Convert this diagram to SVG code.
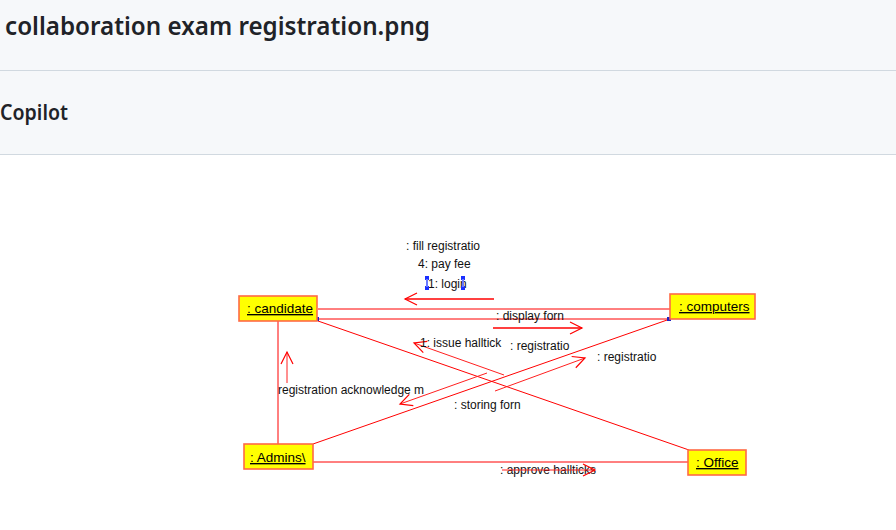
<svg xmlns="http://www.w3.org/2000/svg" width="896" height="530" viewBox="0 0 896 530">
<defs>
<style>
.hdr{font-family:"Noto Sans","Open Sans","Liberation Sans",sans-serif;font-weight:600;fill:#1f2328}
.box{fill:#ffff00;stroke:#ff6a45;stroke-width:1.6}
.ntxt{font-family:"Liberation Sans",Arial,sans-serif;font-size:13.5px;fill:#000;text-decoration:underline}
.lbl{font-family:"Liberation Sans",Arial,sans-serif;font-size:12px;fill:#111}
.ln{stroke:#ff0000;stroke-width:1;fill:none}
.msg{stroke:#ff2020;stroke-width:1;fill:none;marker-end:url(#arr)}
.msgb{stroke:#ff0000;stroke-width:1.5;fill:none;marker-end:url(#arr)}
.hdl{fill:#1a2fff}
</style>
<marker id="arr" markerUnits="userSpaceOnUse" viewBox="-14 -8 16 16" refX="0" refY="0" markerWidth="16" markerHeight="16" orient="auto">
<path d="M-12,-6 L0,0 L-12,6" fill="none" stroke="#ff0000" stroke-width="1.2"/>
</marker>
</defs>
<rect x="0" y="0" width="896" height="530" fill="#ffffff"/>
<g id="header">
<rect x="0" y="0" width="896" height="154" fill="#f6f8fa"/>
<line x1="0" y1="70.5" x2="896" y2="70.5" stroke="#d1d9e0" stroke-width="1"/>
<line x1="0" y1="154.5" x2="896" y2="154.5" stroke="#d1d9e0" stroke-width="1"/>
<text class="hdr" x="5" y="35" font-size="25" textLength="425" lengthAdjust="spacingAndGlyphs">collaboration exam registration.png</text>
<text class="hdr" x="0" y="120" font-size="21" textLength="68" lengthAdjust="spacingAndGlyphs">Copilot</text>
</g>
<g id="connectors">
<line class="ln" x1="318" y1="309" x2="670" y2="309"/>
<line class="ln" x1="318" y1="319" x2="670" y2="319" stroke-width="1.4"/>
<line class="ln" x1="278" y1="321" x2="278" y2="444"/>
<line class="ln" x1="318" y1="321" x2="689" y2="450"/>
<line class="ln" x1="313" y1="444" x2="670" y2="319"/>
<line class="ln" x1="313" y1="462" x2="689" y2="462"/>
<rect x="315" y="317" width="4" height="4" fill="#2020c0"/>
<rect x="667" y="317" width="4" height="4" fill="#2020c0"/>
<line class="msgb" x1="494" y1="299" x2="405" y2="299" stroke-width="1.2"/>
<text class="lbl" x="406" y="250">: fill registratio</text>
<text class="lbl" x="418" y="268">4: pay fee</text>
<text class="lbl" x="428" y="288">1: login</text>
<rect class="hdl" x="425" y="276" width="4" height="4"/>
<rect class="hdl" x="425" y="286" width="4" height="4"/>
<rect x="426" y="279" width="2" height="8" fill="#6a7aff"/>
<rect class="hdl" x="461" y="276" width="4" height="4"/>
<rect class="hdl" x="461" y="286" width="4" height="4"/>
<rect x="462" y="279" width="2" height="8" fill="#6a7aff"/>
<line class="msgb" x1="493" y1="328" x2="582" y2="328"/>
<text class="lbl" x="496" y="320">: display forn</text>
<line class="msg" x1="504" y1="375" x2="414" y2="343"/>
<text class="lbl" x="420" y="347">1: issue halltick</text>
<line class="msg" x1="495" y1="391" x2="585" y2="358"/>
<text class="lbl" x="510" y="350">: registratio</text>
<text class="lbl" x="597" y="361">: registratio</text>
<line class="msg" x1="487" y1="373" x2="400" y2="404"/>
<text class="lbl" x="454" y="409">: storing forn</text>
<line class="msg" x1="287" y1="383" x2="287" y2="352"/>
<text class="lbl" x="278" y="394">registration acknowledge m</text>
<text class="lbl" x="500" y="474">: approve hallticks</text>
<line class="msg" x1="502" y1="470" x2="595" y2="470"/>
</g>
<g id="candidate">
<rect class="box" x="239" y="296" width="78" height="25"/>
<text class="ntxt" x="247" y="313">: candidate</text>
</g>
<g id="computers">
<rect class="box" x="670" y="294" width="85" height="25"/>
<text class="ntxt" x="679" y="311">: computers</text>
</g>
<g id="admins">
<rect class="box" x="244" y="444" width="69" height="25"/>
<text class="ntxt" x="250" y="462">: Admins\</text>
</g>
<g id="office">
<rect class="box" x="688" y="450" width="58" height="25"/>
<text class="ntxt" x="696" y="467">: Office</text>
</g>
</svg>
